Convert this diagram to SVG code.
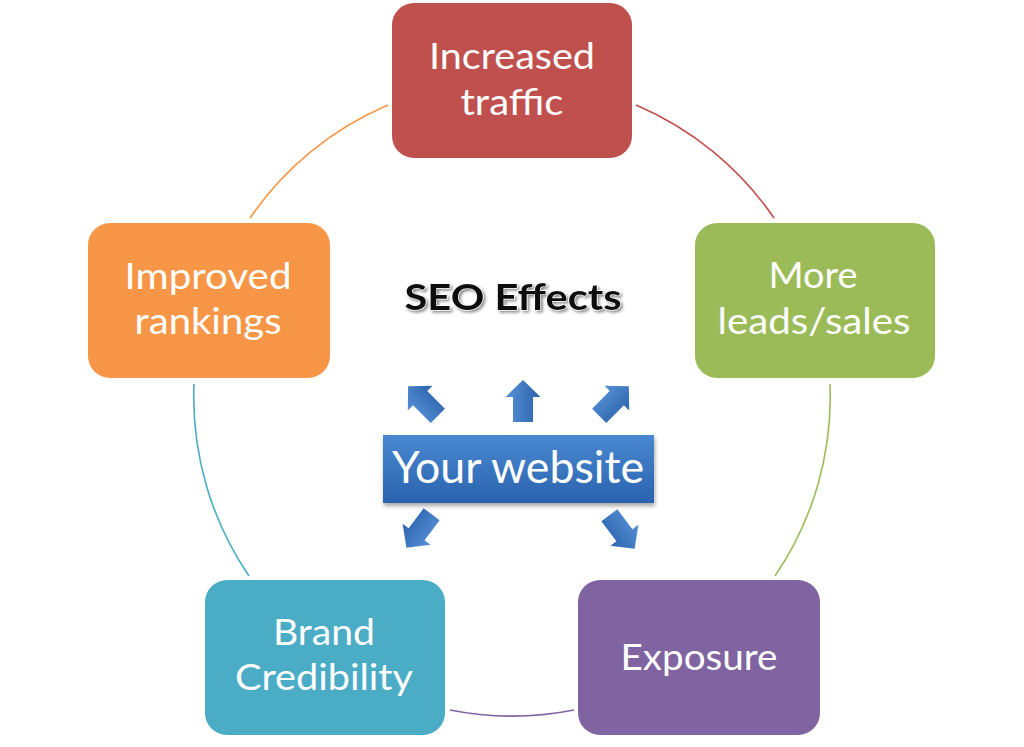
<svg xmlns="http://www.w3.org/2000/svg" width="1024" height="747" viewBox="0 0 1024 747">
  <style>
    .box-text { font-family: Lato, "Open Sans", "DejaVu Sans", sans-serif; font-size: 36px; fill: #ffffff; text-anchor: middle; }
    .arc { fill: none; stroke-width: 1.6; }
    .title { font-family: Lato, "Open Sans", "DejaVu Sans", sans-serif; font-size: 36px; font-weight: bold; fill: #111111; text-anchor: middle; stroke: #ffffff; stroke-width: 1; paint-order: stroke; }
    .web-text { font-family: Lato, "Open Sans", "DejaVu Sans", sans-serif; font-size: 45px; fill: #ffffff; text-anchor: middle; }
    .arrow { fill: url(#arrowGrad); }
  </style>
  <defs>
    <linearGradient id="webGrad" x1="0" y1="0" x2="0" y2="1">
      <stop offset="0" stop-color="#4a88d2"/>
      <stop offset="1" stop-color="#2a63ad"/>
    </linearGradient>
    <linearGradient id="arrowGrad" x1="0" y1="0" x2="1" y2="0">
      <stop offset="0" stop-color="#5790d6"/>
      <stop offset="1" stop-color="#2c64ad"/>
    </linearGradient>
    <filter id="shadow" x="-20%" y="-20%" width="140%" height="160%">
      <feGaussianBlur in="SourceAlpha" stdDeviation="2"/>
      <feOffset dx="1" dy="3" result="b"/>
      <feComponentTransfer><feFuncA type="linear" slope="0.35"/></feComponentTransfer>
      <feMerge><feMergeNode/><feMergeNode in="SourceGraphic"/></feMerge>
    </filter>
    <filter id="textShadow" x="-10%" y="-30%" width="120%" height="160%">
      <feGaussianBlur in="SourceAlpha" stdDeviation="1.5"/>
      <feOffset dx="2" dy="2"/>
      <feComponentTransfer><feFuncA type="linear" slope="0.45"/></feComponentTransfer>
      <feMerge><feMergeNode/><feMergeNode in="SourceGraphic"/></feMerge>
    </filter>
    <path id="arrowShape" d="M0,-21 L17.5,-4 L10,-4 L10,21 L-10,21 L-10,-4 L-17.5,-4 Z"/>
  </defs>

  <rect width="1024" height="747" fill="#ffffff"/>

  <g id="connectors">
    <path class="arc" stroke="#f79646" d="M250,218 A318,318 0 0 1 388,105"/>
    <path class="arc" stroke="#c0504d" d="M636,105 A318,318 0 0 1 774,218"/>
    <path class="arc" stroke="#9bbb59" d="M830,384 A318,318 0 0 1 775,576"/>
    <path class="arc" stroke="#8064a2" d="M574,710 A318,318 0 0 1 450,710"/>
    <path class="arc" stroke="#4bacc6" d="M249,576 A318,318 0 0 1 194,384"/>
  </g>

  <g id="node-increased-traffic">
    <rect x="392" y="3" width="240" height="155" rx="22" fill="#c0504d"/>
    <text class="box-text" x="512" y="69" textLength="166" lengthAdjust="spacingAndGlyphs">Increased</text>
    <text class="box-text" x="512" y="115" textLength="103" lengthAdjust="spacingAndGlyphs">traffic</text>
  </g>

  <g id="node-more-leads">
    <rect x="695" y="223" width="240" height="155" rx="22" fill="#9bbb59"/>
    <text class="box-text" x="813" y="288" textLength="89" lengthAdjust="spacingAndGlyphs">More</text>
    <text class="box-text" x="814" y="334" textLength="193" lengthAdjust="spacingAndGlyphs">leads/sales</text>
  </g>

  <g id="node-exposure">
    <rect x="578" y="580" width="242" height="155" rx="22" fill="#8064a2"/>
    <text class="box-text" x="699" y="670" textLength="157" lengthAdjust="spacingAndGlyphs">Exposure</text>
  </g>

  <g id="node-brand-credibility">
    <rect x="205" y="580" width="240" height="155" rx="22" fill="#4bacc6"/>
    <text class="box-text" x="324" y="645" textLength="102" lengthAdjust="spacingAndGlyphs">Brand</text>
    <text class="box-text" x="324" y="690" textLength="178" lengthAdjust="spacingAndGlyphs">Credibility</text>
  </g>

  <g id="node-improved-rankings">
    <rect x="88" y="223" width="242" height="155" rx="22" fill="#f79646"/>
    <text class="box-text" x="208" y="289" textLength="167" lengthAdjust="spacingAndGlyphs">Improved</text>
    <text class="box-text" x="208" y="334" textLength="147" lengthAdjust="spacingAndGlyphs">rankings</text>
  </g>

  <g id="node-seo-effects">
    <text class="title" x="513" y="310" textLength="217" lengthAdjust="spacingAndGlyphs" filter="url(#textShadow)">SEO Effects</text>
  </g>

  <g id="node-your-website">
    <rect x="383" y="435" width="271" height="68" fill="url(#webGrad)" filter="url(#shadow)"/>
    <text class="web-text" x="518" y="483" textLength="252" lengthAdjust="spacingAndGlyphs">Your website</text>
  </g>

  <g id="arrows">
    <use href="#arrowShape" class="arrow" transform="translate(423,401) rotate(-45)"/>
    <use href="#arrowShape" class="arrow" transform="translate(523,401)"/>
    <use href="#arrowShape" class="arrow" transform="translate(614,401) rotate(45)"/>
    <use href="#arrowShape" class="arrow" transform="translate(419,531) rotate(-143)"/>
    <use href="#arrowShape" class="arrow" transform="translate(622,532) rotate(143)"/>
  </g>
</svg>
